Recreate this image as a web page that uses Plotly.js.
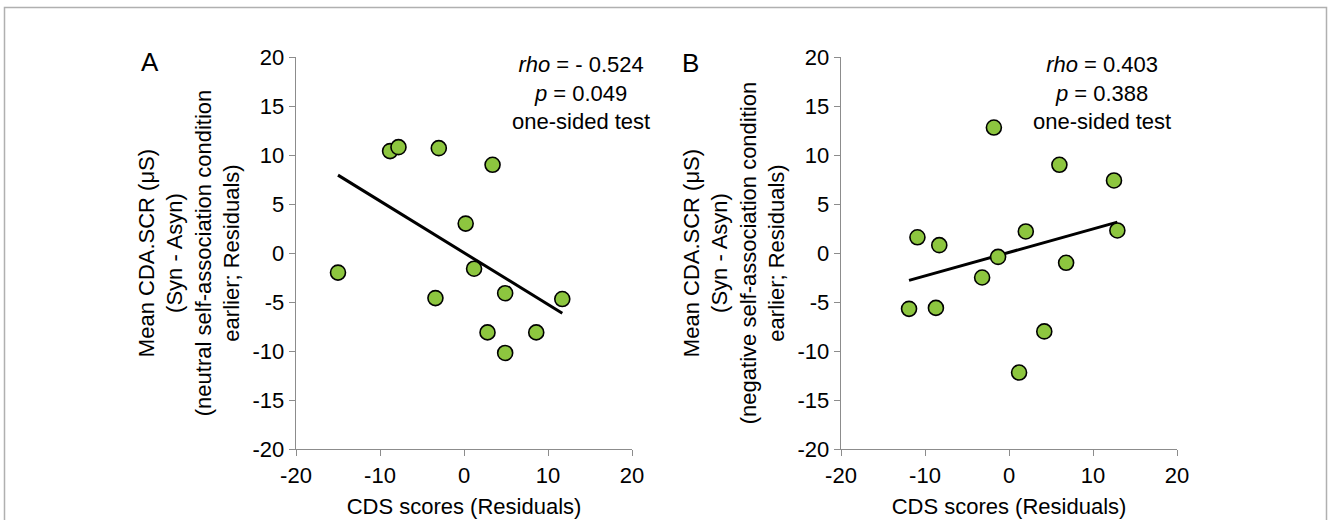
<!DOCTYPE html>
<html>
<head>
<meta charset="utf-8">
<script src="https://cdn.plot.ly/plotly-3.0.1.min.js"></script>
<style>html,body{margin:0;padding:0;background:#fff;}#chart{width:1328px;height:520px;}</style>
</head>
<body>
<div id="chart"></div>
<script>
// Panel A: neutral self-association condition
const xA = [-15.0, -8.8, -7.8, -3.0, 3.4, 0.2, 1.2, -3.4, 4.9, 11.7, 2.8, 8.6, 4.9];
const yA = [-2.0, 10.4, 10.8, 10.7, 9.0, 3.0, -1.6, -4.6, -4.1, -4.7, -8.1, -8.1, -10.2];
// Panel B: negative self-association condition
const xB = [-1.8, 6.0, 12.5, 12.9, -10.9, -8.3, 2.0, -1.3, 6.8, -3.2, -11.9, -8.7, 4.2, 1.2];
const yB = [12.8, 9.0, 7.4, 2.3, 1.6, 0.8, 2.2, -0.4, -1.0, -2.5, -5.7, -5.6, -8.0, -12.2];

const xTickVals = [-20, -10, 0, 10, 20];
const xTickText = ["-20", "-10", "0", "10", "20"];
const yTickVals = [-20, -15, -10, -5, 0, 5, 10, 15, 20];
const yTickText = ["-20", "-15", "-10", "-5", "0", "5", "10", "15", "20"];

const statsA = ["rho = - 0.524", "p = 0.049", "one-sided test"];
const statsB = ["rho = 0.403", "p = 0.388", "one-sided test"];
const panelLabels = ["A", "B"];
const xTitle = "CDS scores (Residuals)";
const yTitleA = ["Mean CDA.SCR (μS)", "(Syn - Asyn)", "(neutral self-association condition", "earlier; Residuals)"];
const yTitleB = ["Mean CDA.SCR (μS)", "(Syn - Asyn)", "(negative self-association condition", "earlier; Residuals)"];

function fit(x, y) {
  const n = x.length;
  const mx = x.reduce((a, b) => a + b, 0) / n;
  const my = y.reduce((a, b) => a + b, 0) / n;
  let sxy = 0, sxx = 0;
  for (let i = 0; i < n; i++) { sxy += (x[i] - mx) * (y[i] - my); sxx += (x[i] - mx) ** 2; }
  const b = sxy / sxx, a = my - b * mx;
  const x0 = Math.min(...x), x1 = Math.max(...x);
  return { x: [x0, x1], y: [a + b * x0, a + b * x1] };
}

const FONT = "Arial, 'Liberation Sans', sans-serif";
const FS = 22;
const fA = fit(xA, yA), fB = fit(xB, yB);
const lineStyle = { color: "#000", width: 3 };
const markerStyle = { size: 15, color: "#8DC63F", line: { color: "#000", width: 1.6 } };

const traces = [
  { x: fA.x, y: fA.y, mode: "lines", line: lineStyle, xaxis: "x", yaxis: "y", hoverinfo: "skip" },
  { x: xA, y: yA, mode: "markers", marker: markerStyle, xaxis: "x", yaxis: "y" },
  { x: fB.x, y: fB.y, mode: "lines", line: lineStyle, xaxis: "x2", yaxis: "y2", hoverinfo: "skip" },
  { x: xB, y: yB, mode: "markers", marker: markerStyle, xaxis: "x2", yaxis: "y2" }
];

function fmtStats(s) {
  const [v1, v2] = [s[0].split(" = "), s[1].split(" = ")];
  return "<i>" + v1[0] + "</i> = " + v1[1] + "<br><i>" + v2[0] + "</i> = " + v2[1] + "<br>" + s[2];
}

const W = 1328, H = 520;
const xAx = (dom) => ({
  domain: dom, range: [-20, 20], tickmode: "array", tickvals: xTickVals, ticktext: xTickText,
  showgrid: false, zeroline: false,
  showline: true, linecolor: "#8c8c8c", linewidth: 1.3, ticks: "outside", ticklen: 6, tickcolor: "#8c8c8c",
  tickfont: { family: FONT, size: FS, color: "#000" }, fixedrange: true,
  title: { text: xTitle, font: { family: FONT, size: FS, color: "#000" }, standoff: 12 }
});
const yAx = (titleLines, anchor) => ({
  domain: [1 - 449 / H, 1 - 57 / H], range: [-20, 20], tickmode: "array", tickvals: yTickVals, ticktext: yTickText,
  showgrid: false, zeroline: false,
  showline: true, linecolor: "#8c8c8c", linewidth: 1.3, ticks: "outside", ticklen: 6, tickcolor: "#8c8c8c",
  tickfont: { family: FONT, size: FS, color: "#000" }, anchor: anchor, fixedrange: true,
  title: { text: titleLines.join("<br>"), font: { family: FONT, size: FS, color: "#000" }, standoff: 6 }
});

const layout = {
  width: W, height: H, margin: { l: 0, r: 0, t: 0, b: 0 },
  paper_bgcolor: "#fff", plot_bgcolor: "#fff", showlegend: false,
  font: { family: FONT, size: FS, color: "#000" },
  xaxis: xAx([296 / W, 632 / W]),
  yaxis: yAx(yTitleA, "x"),
  xaxis2: Object.assign(xAx([841 / W, 1177 / W]), { anchor: "y2" }),
  yaxis2: yAx(yTitleB, "x2"),
  annotations: [
    { xref: "paper", yref: "paper", x: 150 / W, y: 1 - 62 / H, text: panelLabels[0], showarrow: false,
      font: { family: FONT, size: 26, color: "#000" }, xanchor: "center", yanchor: "middle" },
    { xref: "paper", yref: "paper", x: 690 / W, y: 1 - 63 / H, text: panelLabels[1], showarrow: false,
      font: { family: FONT, size: 26, color: "#000" }, xanchor: "center", yanchor: "middle" },
    { xref: "paper", yref: "paper", x: 581 / W, y: 1 - 93 / H, text: fmtStats(statsA), showarrow: false,
      align: "center", font: { family: FONT, size: FS, color: "#000" }, xanchor: "center", yanchor: "middle" },
    { xref: "paper", yref: "paper", x: 1102 / W, y: 1 - 93 / H, text: fmtStats(statsB), showarrow: false,
      align: "center", font: { family: FONT, size: FS, color: "#000" }, xanchor: "center", yanchor: "middle" }
  ],
  shapes: [
    { type: "rect", xref: "paper", yref: "paper", x0: 4.5 / W, x1: 1326.5 / W, y0: -0.2, y1: 1 - 7.5 / H,
      line: { color: "#b0b0b0", width: 1.5 }, fillcolor: "rgba(0,0,0,0)", layer: "below" }
  ]
};

Plotly.newPlot("chart", traces, layout, { displayModeBar: false, staticPlot: true });
</script>
</body>
</html>
